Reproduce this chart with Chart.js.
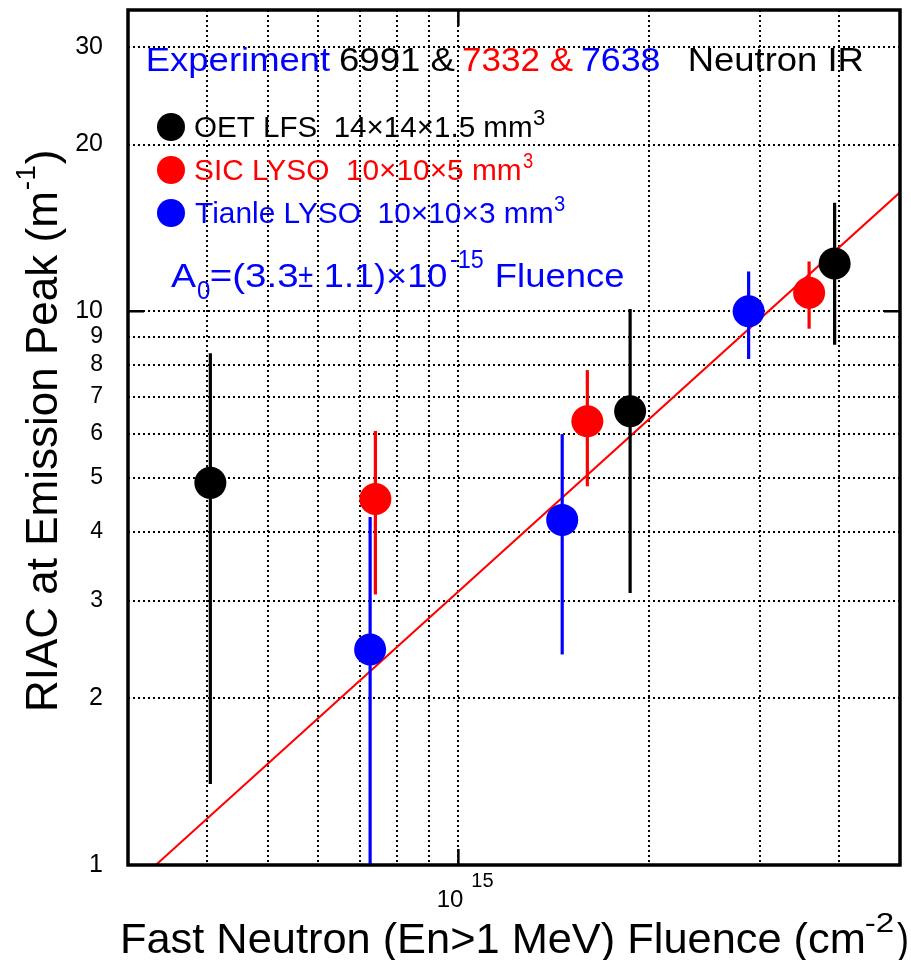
<!DOCTYPE html>
<html>
<head>
<meta charset="utf-8">
<title>RIAC vs fast neutron fluence</title>
<script src="https://cdn.jsdelivr.net/npm/chart.js@4.4.1/dist/chart.umd.min.js"></script>
<style>
  html, body { margin: 0; padding: 0; background: #fff; overflow: hidden; }
  #wrap { width: 911px; height: 960px; position: relative; }
  #riac { display: block; }
</style>
</head>
<body>
<div id="wrap"><canvas id="riac"></canvas></div>
<script>
// Fluence (cm^-2), RIAC at emission peak (m^-1) and its +/- error per sample
const oetFluence = [4.05e14, 1.87e15, 3.94e15];
const oetRiac    = [4.9, 6.6, 12.2];
const oetErr     = [3.5, 3.5, 3.5];

const sicFluence = [7.39e14, 1.60e15, 3.59e15];
const sicRiac    = [4.58, 6.33, 10.8];
const sicErr     = [1.5, 1.5, 1.5];

const tianleFluence = [7.25e14, 1.46e15, 2.88e15];
const tianleRiac    = [2.45, 4.2, 10.0];
const tianleErr     = [1.8, 1.8, 1.8];

// fitted line, end points
const fitFluence = [3.32e14, 5e15];
const fitRiac    = [1.0, 16.4];

// axes
const xMin = 3e14, xMax = 5e15;
const yMin = 1, yMax = 35;
const xGrid = [4e14, 5e14, 6e14, 7e14, 8e14, 9e14, 1e15, 2e15, 3e15, 4e15];
const yTicks = [1, 2, 3, 4, 5, 6, 7, 8, 9, 10, 20, 30];
const yTickLabels = ['1', '2', '3', '4', '5', '6', '7', '8', '9', '10', '20', '30'];
const yBigLabels = [1, 2, 10, 20, 30];
const xMajor = [1e15];
const yMajor = [10];

// plot frame inside the canvas
const PLOT = { left: 128, top: 10, right: 900, bottom: 865 };

const FONT = '"Liberation Sans", Arial, Helvetica, sans-serif';
const BLACK = '#000000';
const RED = '#ff0000';
const BLUE = '#0000ff';

Chart.defaults.font.family = FONT;

const series = [
    { fluence: oetFluence, riac: oetRiac, err: oetErr, color: BLACK },
    { fluence: sicFluence, riac: sicRiac, err: sicErr, color: RED },
    { fluence: tianleFluence, riac: tianleRiac, err: tianleErr, color: BLUE }
];

// Markers first so they end up on top
const markerSets = series.map(s => ({
    data: s.fluence.map((x, i) => ({ x, y: s.riac[i] })),
    showLine: false,
    pointRadius: 16,
    pointHoverRadius: 16,
    pointBackgroundColor: s.color,
    pointBorderWidth: 0
}));

const barSets = [];
series.forEach(s => {
    s.fluence.forEach((x, i) => {
        barSets.push({
            data: [{ x, y: s.riac[i] - s.err[i] }, { x, y: s.riac[i] + s.err[i] }],
            showLine: true,
            borderColor: s.color,
            borderWidth: 3.2,
            pointRadius: 0,
            pointHoverRadius: 0
        });
    });
});

const fitSet = {
    data: fitFluence.map((x, i) => ({ x, y: fitRiac[i] })),
    showLine: true,
    borderColor: RED,
    borderWidth: 2,
    pointRadius: 0,
    pointHoverRadius: 0
};

// Text helper: squeeze/stretch a run so its ink spans x0..x1
const fitText = (ctx, text, x0, x1, baseline, size, color) => {
    ctx.save();
    ctx.font = size + 'px ' + FONT;
    ctx.textAlign = 'left';
    ctx.textBaseline = 'alphabetic';
    const m = ctx.measureText(text);
    const ink = m.actualBoundingBoxLeft + m.actualBoundingBoxRight;
    const sx = (x1 - x0) / ink;
    ctx.translate(x0 + m.actualBoundingBoxLeft * sx, baseline);
    ctx.scale(sx, 1);
    ctx.fillStyle = color;
    ctx.fillText(text, 0, 0);
    ctx.restore();
};

const headerRuns = [
    ['Experiment', BLUE, 148, 330],
    ['6991 &', BLACK, 340, 455],
    ['7332 &', RED, 463, 573],
    ['7638', BLUE, 582, 659],
    ['Neutron IR', BLACK, 690, 863]
];

const legendRows = [
    { color: BLACK, text: 'OET LFS  14\u00d714\u00d71.5 mm', end: 531, sup: [533, 545], cy: 127, base: 137 },
    { color: RED, text: 'SIC LYSO  10\u00d710\u00d75 mm', end: 520, sup: [523, 533], cy: 170, base: 180 },
    { color: BLUE, text: 'Tianle LYSO  10\u00d710\u00d73 mm', end: 552, sup: [554, 565], cy: 213, base: 223 }
];

// Pin the chart area to PLOT, whatever the scales asked for
const pinArea = {
    id: 'pinArea',
    afterLayout(chart) {
        const a = chart.chartArea;
        const dx = { left: PLOT.left - a.left, top: PLOT.top - a.top };
        if (dx.left === 0 && dx.top === 0 && a.right === PLOT.right && a.bottom === PLOT.bottom) return;
        Object.assign(a, PLOT);
        a.width = PLOT.right - PLOT.left;
        a.height = PLOT.bottom - PLOT.top;
        const { x, y } = chart.scales;
        x.left = PLOT.left; x.right = PLOT.right; x.width = a.width;
        x.top = PLOT.bottom; x.bottom = chart.height; x.height = chart.height - PLOT.bottom;
        y.left = 0; y.right = PLOT.left; y.width = PLOT.left;
        y.top = PLOT.top; y.bottom = PLOT.bottom; y.height = a.height;
        [x, y].forEach(s => {
            s.configure();
            s._gridLineItems = null;
            s._labelItems = null;
        });
    }
};

const annotations = {
    id: 'annotations',
    beforeDraw(chart) {
        const ctx = chart.ctx;
        ctx.save();
        ctx.fillStyle = '#fff';
        ctx.fillRect(0, 0, chart.width, chart.height);
        ctx.restore();
    },
    afterDatasetsDraw(chart) {
        const ctx = chart.ctx;

        // header line
        headerRuns.forEach(r => fitText(ctx, r[0], r[2], r[3], 71, 33, r[1]));

        // legend
        legendRows.forEach(row => {
            ctx.save();
            ctx.fillStyle = row.color;
            ctx.beginPath();
            ctx.arc(171, row.cy, 14, 0, Math.PI * 2);
            ctx.fill();
            ctx.restore();
            fitText(ctx, row.text, 195, row.end, row.base, 29.5, row.color);
            fitText(ctx, '3', row.sup[0], row.sup[1], row.base - 12, 22, row.color);
        });

        // fit formula
        fitText(ctx, 'A', 171, 196, 287, 33, BLUE);
        fitText(ctx, '0', 198, 210, 299, 26, BLUE);
        fitText(ctx, '=(3.3', 211, 297, 287, 33, BLUE);
        fitText(ctx, '\u00b1', 299, 313, 287, 33, BLUE);
        fitText(ctx, '1.1)\u00d710', 326, 447, 287, 33, BLUE);
        fitText(ctx, '-15', 451, 483, 268, 25, BLUE);
        fitText(ctx, 'Fluence', 497, 623, 287, 33, BLUE);
    },
    afterDraw(chart) {
        const { ctx, chartArea: a, scales: { x, y } } = chart;
        const line = (x1, y1, x2, y2) => {
            ctx.beginPath();
            ctx.moveTo(x1, y1);
            ctx.lineTo(x2, y2);
            ctx.stroke();
        };
        ctx.save();
        ctx.strokeStyle = BLACK;
        ctx.lineWidth = 3.5;
        ctx.strokeRect(a.left, a.top, a.right - a.left, a.bottom - a.top);

        // major tick marks on all four sides
        ctx.lineWidth = 2.5;
        yMajor.forEach(v => {
            const py = y.getPixelForValue(v);
            line(a.left, py, a.left + 16, py);
            line(a.right - 16, py, a.right, py);
        });
        xMajor.forEach(v => {
            const px = x.getPixelForValue(v);
            line(px, a.bottom, px, a.bottom - 16);
            line(px, a.top, px, a.top + 16);
        });

        // x tick label 10^15
        const px = x.getPixelForValue(1e15);
        ctx.fillStyle = BLACK;
        ctx.textBaseline = 'alphabetic';
        ctx.font = '24px ' + FONT;
        ctx.textAlign = 'right';
        ctx.fillText('10', px + 5, 907);
        ctx.font = '20px ' + FONT;
        ctx.textAlign = 'left';
        ctx.fillText('15', px + 13, 887);
        ctx.restore();

        // x axis title
        fitText(ctx, 'Fast Neutron (En>1 MeV) Fluence (cm', 123, 863, 953, 43, BLACK);
        fitText(ctx, '-2', 866, 893, 932, 27, BLACK);
        fitText(ctx, ')', 897, 907, 953, 43, BLACK);

        // y axis title, reads bottom to top
        ctx.save();
        ctx.translate(57, 712);
        ctx.rotate(-Math.PI / 2);
        ctx.fillStyle = BLACK;
        ctx.textAlign = 'left';
        ctx.textBaseline = 'alphabetic';
        ctx.font = '44px ' + FONT;
        const main = 'RIAC at Emission Peak (m';
        ctx.fillText(main, 0, 0);
        let cx = ctx.measureText(main).width;
        ctx.font = '28px ' + FONT;
        ctx.fillText('-1', cx + 1, -22);
        cx += ctx.measureText('-1').width + 2;
        ctx.font = '44px ' + FONT;
        ctx.fillText(')', cx, 0);
        ctx.restore();
    }
};

new Chart(document.getElementById('riac'), {
    type: 'scatter',
    data: { datasets: [...markerSets, ...barSets, fitSet] },
    options: {
        responsive: true,
        maintainAspectRatio: false,
        devicePixelRatio: 1,
        animation: false,
        layout: { padding: { top: PLOT.top, right: 911 - PLOT.right, left: 0, bottom: 0 } },
        plugins: {
            legend: { display: false },
            tooltip: { enabled: false },
            title: { display: false }
        },
        scales: {
            x: {
                type: 'logarithmic',
                min: xMin,
                max: xMax,
                afterBuildTicks: (scale) => { scale.ticks = xGrid.map(v => ({ value: v })); },
                afterFit: (scale) => {
                    scale.height = 960 - PLOT.bottom;
                    scale.paddingLeft = 0;
                    scale.paddingRight = 0;
                },
                ticks: { display: false, autoSkip: false },
                grid: { color: BLACK, lineWidth: 2, drawTicks: false },
                border: { display: false, dash: [2, 3] }
            },
            y: {
                type: 'logarithmic',
                min: yMin,
                max: yMax,
                afterBuildTicks: (scale) => { scale.ticks = yTicks.map(v => ({ value: v })); },
                afterFit: (scale) => {
                    scale.width = PLOT.left;
                    scale.paddingTop = 0;
                    scale.paddingBottom = 0;
                },
                ticks: {
                    autoSkip: false,
                    padding: 25,
                    color: BLACK,
                    font: (c) => ({ family: FONT, size: c.tick && yBigLabels.includes(c.tick.value) ? 25 : 23 }),
                    callback: (v) => yTickLabels[yTicks.indexOf(v)]
                },
                grid: { color: BLACK, lineWidth: 2, drawTicks: false },
                border: { display: false, dash: [2, 3] }
            }
        }
    },
    plugins: [pinArea, annotations]
});
</script>
</body>
</html>
